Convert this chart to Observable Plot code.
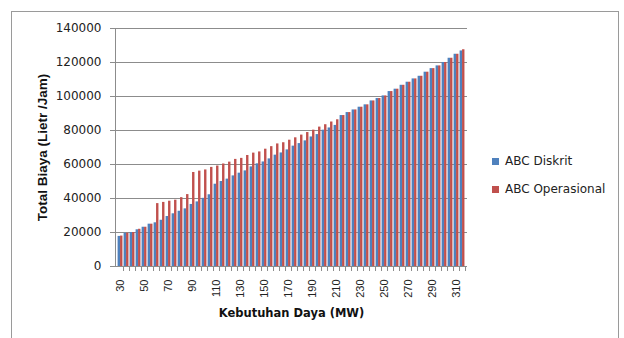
<!DOCTYPE html>
<html>
<head>
<meta charset="utf-8">
<script src="https://cdn.jsdelivr.net/npm/d3@7"></script>
<script src="https://cdn.jsdelivr.net/npm/@observablehq/plot@0.6"></script>
<style>
  html, body { margin: 0; padding: 0; background: #fff; }
  #wrap { position: relative; width: 624px; height: 338px; overflow: hidden; }
  #border { position: absolute; left: 11px; top: 11px; width: 608px; height: 340px; border: 1px solid #9a9a9a; box-sizing: border-box; }
  #legend { position: absolute; left: 492px; top: 154px; font-family: "DejaVu Sans", sans-serif; font-size: 12px; color: #222; }
  .row { display: flex; align-items: center; height: 14px; }
  .sw { width: 7px; height: 7px; margin-right: 6px; }
</style>
</head>
<body>
<div id="wrap">
  <div id="border"></div>
  <div id="chart"></div>
  <div id="legend"></div>
</div>
<script>
const demand = [30,35,40,45,50,55,60,65,70,75,80,85,90,95,100,105,110,115,120,125,130,135,140,145,150,155,160,165,170,175,180,185,190,195,200,205,210,215,220,225,230,235,240,245,250,255,260,265,270,275,280,285,290,295,300,305,310,315];
const abcDiskrit = [17700,19600,20000,21600,23100,24900,25700,27200,29400,31000,32500,33900,36500,38000,40100,42200,48400,50000,51400,53300,54900,56250,58600,60400,61500,63300,65500,66800,68600,70800,72300,73900,76200,77600,80200,81500,83000,88800,90550,92100,93700,95100,97400,98800,100350,102900,104300,106600,108400,110350,111900,114300,116400,118000,120000,122500,124850,126800];
const abcOperasional = [17900,19600,20000,21900,23100,24900,37000,37700,38400,39000,40500,42300,55300,56100,56800,58300,59100,60300,61400,63000,63600,65300,66700,67400,69000,70500,72100,72800,74300,75700,77300,78800,80200,82000,83400,85000,86300,88800,90550,92100,93700,95100,97400,98800,100350,102900,104300,106600,108400,110350,111900,114300,116400,118000,120000,122500,124850,127500];
const seriesNames = ["ABC Diskrit", "ABC Operasional"];
const seriesColors = ["#4F81BD", "#C0504D"];
const xTickLabels = [30,50,70,90,110,130,150,170,190,210,230,250,270,290,310];
const yTicks = [0,20000,40000,60000,80000,100000,120000,140000];

const rows1 = demand.map((d, i) => ({demand: d, value: abcDiskrit[i]}));
const rows2 = demand.map((d, i) => ({demand: d, value: abcOperasional[i]}));

const gridColor = "#8c8c8c";
const chart = Plot.plot({
  width: 624,
  height: 338,
  marginLeft: 115,
  marginRight: 157,
  marginTop: 28,
  marginBottom: 72,
  style: {background: "transparent", overflow: "visible"},
  x: {type: "band", domain: demand, padding: 0, axis: null},
  y: {domain: [0, 140000], axis: null},
  marks: [
    Plot.gridY(yTicks.slice(1), {stroke: gridColor, strokeOpacity: 1, strokeWidth: 1}),
    Plot.barY(rows1, {x: "demand", y: "value", fill: seriesColors[0], insetLeft: 0.6, insetRight: 3.0}),
    Plot.barY(rows2, {x: "demand", y: "value", fill: seriesColors[1], insetLeft: 3.05, insetRight: 0.55}),
    Plot.ruleY([0], {stroke: gridColor}),
    Plot.frame({anchor: "left", stroke: gridColor, strokeOpacity: 1}),
    Plot.axisY({ticks: yTicks, tickSize: 5, tickPadding: 9, stroke: gridColor, tickFormat: d => String(d), fontSize: 12, fontFamily: "DejaVu Sans", fill: "#222", label: null}),
    Plot.axisY({ticks: [], label: "Total Biaya (Lietr /Jam)", labelAnchor: "center", labelArrow: "none", labelOffset: 78, fontSize: 13.5, fontWeight: "bold", fontFamily: "Liberation Sans", fill: "#111"}),
    Plot.axisX({ticks: demand, tickSize: 5, dx: 3.03, tickFormat: () => "", stroke: gridColor, label: null}),
    Plot.axisX({ticks: xTickLabels, tickSize: 0, tickPadding: 13, tickRotate: -90, fontSize: 11, fontFamily: "Liberation Sans", fill: "#222", label: null}),
    Plot.axisX({ticks: [], label: "Kebutuhan Daya (MW)", labelAnchor: "center", labelArrow: "none", labelOffset: 50, fontSize: 11.5, fontWeight: "bold", fontFamily: "DejaVu Sans", fill: "#111"})
  ]
});
document.getElementById("chart").appendChild(chart);

const legend = document.getElementById("legend");
seriesNames.forEach((name, i) => {
  const row = document.createElement("div");
  row.className = "row";
  row.style.marginBottom = i === 0 ? "14px" : "0";
  const sw = document.createElement("div");
  sw.className = "sw";
  sw.style.background = seriesColors[i];
  const t = document.createElement("span");
  t.textContent = name;
  row.appendChild(sw);
  row.appendChild(t);
  legend.appendChild(row);
});
</script>
</body>
</html>
